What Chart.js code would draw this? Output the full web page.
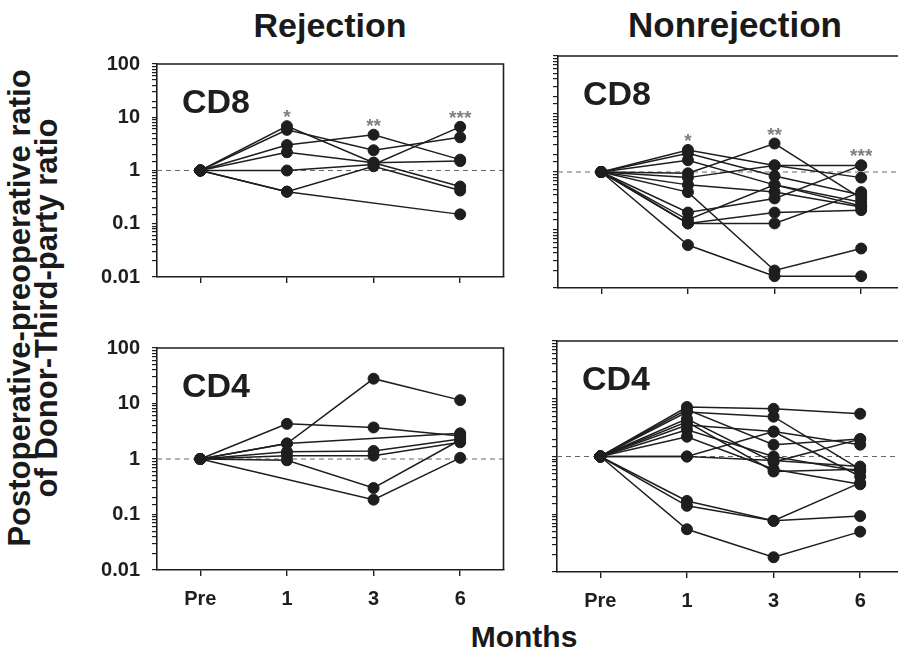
<!DOCTYPE html>
<html lang="en">
<head>
  <meta charset="UTF-8">
  <title>Donor-Third-party ratio</title>
  <script src="https://cdn.jsdelivr.net/npm/chart.js"></script>
  <style>
    html, body { margin: 0; padding: 0; background: #fff; overflow: hidden; }
    #wrap { position: relative; width: 898px; height: 654px; overflow: hidden;
            font-family: 'Liberation Sans', Arial, sans-serif; color: #1a1a1a; }
    #wrap canvas { position: absolute; }
    .lbl { position: absolute; font-weight: bold; text-align: center; white-space: nowrap; }
  </style>
</head>
<body>

<div id="wrap">
  <div class="lbl" style="left:230px; top:8px; width:200px; font-size:34px; line-height:34px;">Rejection</div>
  <div class="lbl" style="left:605px; top:8px; width:260px; font-size:35px; line-height:34px;">Nonrejection</div>
  <div class="lbl" style="left:424px; top:622px; width:200px; font-size:30px; line-height:30px;">Months</div>
  <div class="lbl" style="left:-227px; top:281px; width:520px; height:54px; font-size:31px; line-height:27px; transform:rotate(-90deg);">
    Postoperative-preoperative ratio<br>of Donor-Third-party ratio
  </div>
  <canvas id="rejCD8" width="415" height="261" style="left:95px; top:40px;"></canvas>
  <canvas id="nonrejCD8" width="361" height="260" style="left:550px; top:42px;"></canvas>
  <canvas id="rejCD4" width="415" height="290" style="left:95px; top:324px;"></canvas>
  <canvas id="nonrejCD4" width="361" height="289" style="left:549px; top:327px;"></canvas>
</div>

<script>
  const months = ['Pre', '1', '3', '6'];
  const decades = [0.01, 0.1, 1, 10, 100];
  const cd8Stars = ['', '*', '**', '***'];

  // one row per patient, values at Pre, 1, 3, 6 months (null = no sample)
  const rejCD8 = [
    [1, 6.8, 1.4, 0.5],
    [1, 5.8, 2.4, 4.2],
    [1, 3.0, 4.7, 1.6],
    [1, 2.2, 1.4, 1.5],
    [1, 1.0, 1.3, 6.6],
    [1, 0.4, 1.2, 0.42],
    [1, 0.4, null, 0.15],
  ];

  const nonrejCD8 = [
    [1, 2.4, 1.3, 1.3],
    [1, 2.1, 0.85, 0.4],
    [1, 1.6, 0.6, 0.26],
    [1, 0.95, 3.1, 0.35],
    [1, 0.8, 1.3, 0.8],
    [1, 0.6, 0.45, 0.25],
    [1, 0.45, 0.02, 0.048],
    [1, 0.2, 0.35, 1.3],
    [1, 0.15, 0.6, 0.3],
    [1, 0.13, 0.13, 0.45],
    [1, 0.055, 0.016, 0.016],
    [1, 0.13, 0.2, 0.22],
  ];

  const rejCD4 = [
    [1, 4.3, 3.7, 2.6],
    [1, 1.9, 28, 11.5],
    [1, 1.9, null, 2.9],
    [1, 1.35, 1.4, 2.3],
    [1, 1.15, 1.15, 2.0],
    [1, 0.95, 0.3, 2.2],
    [1, null, 0.185, 1.05],
  ];

  const nonrejCD4 = [
    [1, 7.2, 6.7, 5.5],
    [1, 5.9, 4.9, 0.6],
    [1, 4.5, 0.8, 2.0],
    [1, 3.5, 2.7, 0.45],
    [1, 2.9, 1.0, 0.55],
    [1, 2.2, 0.6, 0.33],
    [1, 1.0, 2.7, 1.6],
    [1, 1.0, 0.85, 0.67],
    [1, 0.17, 0.077, 0.093],
    [1, 0.14, 0.077, 0.35],
    [1, 0.055, 0.018, 0.05],
    [1, 6.5, 1.6, 2.0],
    [1, 4.0, 0.55, 0.6],
  ];

  const ink = '#1e1e1e';

  // frame, dashed line at 1, panel name and significance stars
  const panelDecor = {
    id: 'panelDecor',
    beforeDatasetsDraw(chart, args, o) {
      const { ctx, chartArea: a, scales } = chart;
      const y1 = scales.y.getPixelForValue(1);
      ctx.save();
      ctx.strokeStyle = '#666';
      ctx.lineWidth = 1;
      ctx.setLineDash([5, 4]);
      ctx.beginPath();
      ctx.moveTo(a.left, y1);
      ctx.lineTo(a.right, y1);
      ctx.stroke();
      ctx.setLineDash([]);
      ctx.strokeStyle = ink;
      ctx.lineWidth = 1.6;
      ctx.beginPath();
      ctx.moveTo(a.left, a.top);
      ctx.lineTo(a.right, a.top);
      ctx.lineTo(a.right, a.bottom);
      ctx.stroke();
      ctx.restore();
    },
    afterDatasetsDraw(chart, args, o) {
      const { ctx, chartArea: a, scales } = chart;
      ctx.save();
      ctx.fillStyle = ink;
      ctx.font = "bold 34px 'Liberation Sans', Arial, sans-serif";
      ctx.textBaseline = 'alphabetic';
      ctx.fillText(o.label, a.left + 25, a.top + 49);
      if (o.stars) {
        ctx.fillStyle = '#808080';
        ctx.font = "bold 19px 'Liberation Sans', Arial, sans-serif";
        ctx.textAlign = 'center';
        o.stars.forEach((s, i) => {
          if (!s) return;
          const col = o.rows.map(r => r[i]).filter(v => v != null);
          const top = scales.y.getPixelForValue(Math.max(...col));
          ctx.fillText(s, scales.x.getPixelForValue(i), top - 3);
        });
      }
      ctx.restore();
    }
  };

  function isDecade(v) {
    return Math.abs(Math.log10(v) - Math.round(Math.log10(v))) < 1e-6;
  }

  function makePanel(id, rows, label, stars, showY, showX) {
    const ctx = document.getElementById(id).getContext('2d');
    const tickFont = { family: "'Liberation Sans', Arial, sans-serif", size: 20, weight: 'bold' };
    return new Chart(ctx, {
      type: 'line',
      data: {
        labels: months,
        datasets: rows.map(r => ({
          data: r,
          borderColor: ink,
          borderWidth: 1.5,
          pointRadius: 5.5,
          pointBackgroundColor: ink,
          pointBorderColor: ink,
          pointBorderWidth: 1,
          spanGaps: true,
          tension: 0,
        })),
      },
      options: {
        responsive: false,
        animation: false,
        layout: { padding: { top: 14, right: 4, left: 0, bottom: 0 } },
        plugins: {
          legend: { display: false },
          tooltip: { enabled: false },
          panelDecor: { label: label, stars: stars, rows: rows },
        },
        scales: {
          x: {
            type: 'category',
            offset: true,
            border: { color: ink, width: 1.6 },
            grid: { drawOnChartArea: false, color: ink, lineWidth: 1.4, tickLength: 6 },
            ticks: { display: showX, color: ink, font: tickFont, padding: 11, maxRotation: 0 },
            afterFit: s => { s.height = showX ? 44 : 14; },
          },
          y: {
            type: 'logarithmic',
            min: decades[0],
            max: decades[decades.length - 1],
            border: { color: ink, width: 1.6 },
            grid: { drawOnChartArea: false, color: ink, lineWidth: 1.2, tickLength: 5 },
            ticks: {
              display: showY,
              autoSkip: false,
              color: ink,
              font: tickFont,
              padding: 12,
              callback: v => isDecade(v) && decades.includes(Number(v.toPrecision(3))) ? String(Number(v.toPrecision(3))) : '',
            },
            afterFit: s => { s.width = showY ? 62 : 8; },
          },
        },
      },
      plugins: [panelDecor],
    });
  }

  document.addEventListener('DOMContentLoaded', function () {
    makePanel('rejCD8', rejCD8, 'CD8', cd8Stars, true, false);
    makePanel('nonrejCD8', nonrejCD8, 'CD8', cd8Stars, false, false);
    makePanel('rejCD4', rejCD4, 'CD4', null, true, true);
    makePanel('nonrejCD4', nonrejCD4, 'CD4', null, false, true);
  });
</script>

</body>
</html>
